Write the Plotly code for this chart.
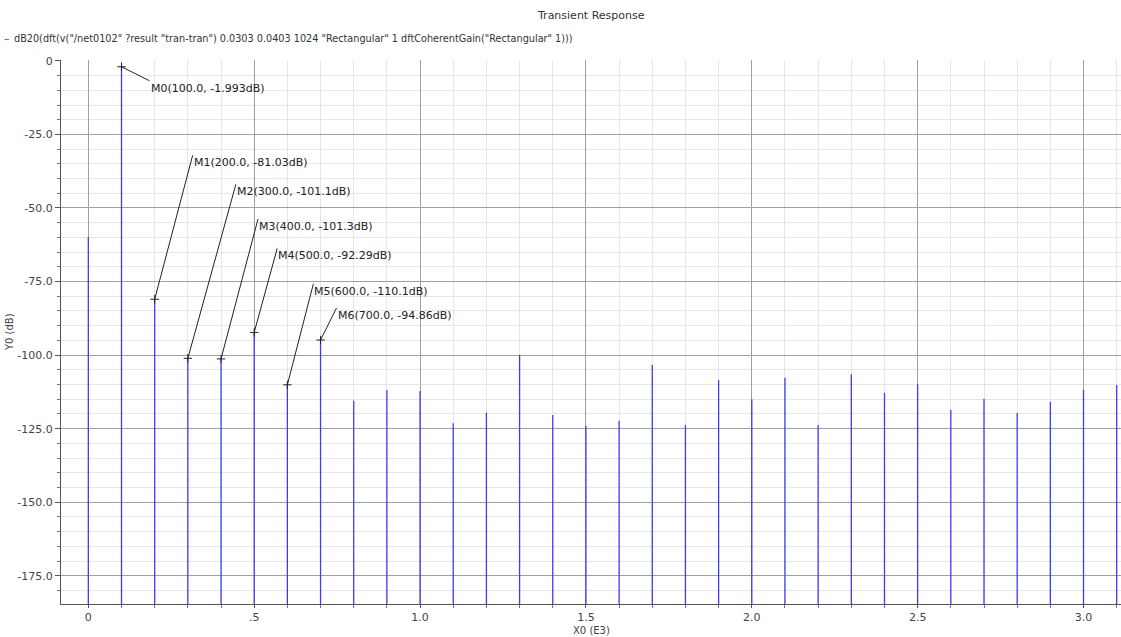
import plotly.graph_objects as go

# Spectrum bins (frequency in kHz, i.e. X0 in E3 units) and magnitude in dB
freq_k = [0.0, 0.1, 0.2, 0.3, 0.4, 0.5, 0.6, 0.7, 0.8, 0.9, 1.0, 1.1, 1.2, 1.3, 1.4, 1.5,
          1.6, 1.7, 1.8, 1.9, 2.0, 2.1, 2.2, 2.3, 2.4, 2.5, 2.6, 2.7, 2.8, 2.9, 3.0, 3.1]
mag_db = [-59.9, -1.993, -81.03, -101.1, -101.3, -92.29, -110.1, -94.86, -115.5, -111.9,
          -112.2, -123.2, -119.6, -99.9, -120.4, -124.1, -122.3, -103.4, -123.8, -108.5,
          -115.0, -107.7, -123.8, -106.5, -112.8, -109.9, -118.7, -114.8, -119.7, -115.9,
          -111.8, -110.2]

# Markers placed on bins 1..7
marker_bins = [1, 2, 3, 4, 5, 6, 7]
# Pixel offsets of each marker label (left edge, vertical middle) from its point
label_offsets = [(28, 21), (38, -137), (48, -167), (37, -133), (23, -77), (26, -94), (16, -25)]

y_tick_vals = [0, -25, -50, -75, -100, -125, -150, -175]
x_tick_vals = [0.0, 0.5, 1.0, 1.5, 2.0, 2.5, 3.0]
x_tick_text = ["0", ".5", "1.0", "1.5", "2.0", "2.5", "3.0"]

legend_expr = ('dB20(dft(v("/net0102" ?result "tran-tran") 0.0303 0.0403 1024 '
               '"Rectangular" 1 dftCoherentGain("Rectangular" 1)))')

Y_MIN, Y_MAX = -184.6, 0.3
X_MIN, X_MAX = -0.0824, 3.113
FONT = "DejaVu Sans"
BAR_COLOR = "#3c3cff"

# Stem lines: one segment per bin from the bottom of the axis up to its value
sx, sy = [], []
for f, v in zip(freq_k, mag_db):
    sx += [f, f, None]
    sy += [Y_MIN, v, None]

fig = go.Figure()
fig.add_trace(go.Scatter(x=sx, y=sy, mode="lines",
                         line=dict(color=BAR_COLOR, width=1.3),
                         hoverinfo="skip", showlegend=False))

mx = [freq_k[i] for i in marker_bins]
my = [mag_db[i] for i in marker_bins]
fig.add_trace(go.Scatter(x=mx, y=my, mode="markers",
                         marker=dict(symbol="cross-thin", size=6,
                                     line=dict(width=1, color="#222")),
                         hoverinfo="skip", showlegend=False))

annotations = []
for k, (i, (ox, oy)) in enumerate(zip(marker_bins, label_offsets)):
    txt = f"M{k}({freq_k[i] * 1000:.1f}, {mag_db[i]:.4g}dB)"
    annotations.append(dict(
        x=freq_k[i], y=mag_db[i], xref="x", yref="y",
        text=txt, showarrow=True, arrowhead=0, arrowwidth=1, arrowcolor="#222",
        ax=ox, ay=oy - 7, axref="pixel", ayref="pixel",
        xanchor="left", yanchor="top", borderpad=0,
        font=dict(family=FONT, size=11, color="#222")))

# Title, legend entry, axis titles
annotations += [
    dict(text="Transient Response", xref="paper", yref="paper", x=0.5, y=1.081,
         xanchor="center", yanchor="middle", showarrow=False,
         font=dict(family=FONT, size=11, color="#333")),
    dict(text="\u2013", xref="paper", yref="paper", x=-0.0509, y=1.0404,
         xanchor="center", yanchor="middle", showarrow=False,
         font=dict(family=FONT, size=11, color=BAR_COLOR)),
    dict(text=legend_expr,
         xref="paper", yref="paper", x=-0.0462, y=1.0404,
         xanchor="left", yanchor="middle", showarrow=False,
         font=dict(family=FONT, size=9.7, color="#333")),
    dict(text="Y0 (dB)", xref="paper", yref="paper", x=-0.049, y=0.5,
         xanchor="center", yanchor="middle", textangle=-90, showarrow=False,
         font=dict(family=FONT, size=10, color="#444")),
    dict(text="X0 (E3)", xref="paper", yref="paper", x=0.5, y=-0.0485,
         xanchor="center", yanchor="middle", showarrow=False,
         font=dict(family=FONT, size=10, color="#444")),
]

fig.update_layout(
    width=1121, height=637,
    margin=dict(l=61, r=0, t=60, b=33),
    paper_bgcolor="white", plot_bgcolor="white",
    showlegend=False,
    annotations=annotations,
    xaxis=dict(range=[X_MIN, X_MAX], tickmode="array", tickvals=x_tick_vals,
               ticktext=x_tick_text, showgrid=True, gridcolor="#a0a0a0", gridwidth=1,
               zeroline=False, showline=True, linecolor="#555", linewidth=1,
               ticks="outside", ticklen=3, tickcolor="#555",
               tickfont=dict(family=FONT, size=11, color="#444"),
               minor=dict(dtick=0.1, tick0=0, showgrid=True, gridcolor="#e6e6e6",
                          ticks="outside", ticklen=3, tickcolor="#777")),
    yaxis=dict(range=[Y_MIN, Y_MAX], tickmode="array", tickvals=y_tick_vals,
               ticktext=["0" if v == 0 else f"{v:.1f}" for v in y_tick_vals],
               showgrid=True, gridcolor="#a0a0a0", gridwidth=1,
               zeroline=False, showline=True, linecolor="#555", linewidth=1,
               ticks="outside", ticklen=5, tickcolor="#555",
               tickfont=dict(family=FONT, size=11, color="#444"),
               minor=dict(dtick=5, tick0=0, showgrid=True, gridcolor="#e6e6e6",
                          ticks="outside", ticklen=3, tickcolor="#777")),
)

fig.write_html("out.html")
